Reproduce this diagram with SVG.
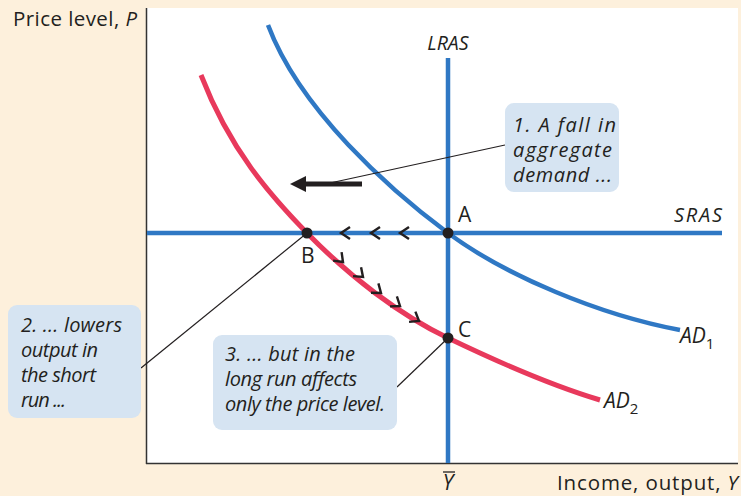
<svg xmlns="http://www.w3.org/2000/svg" width="741" height="496" viewBox="0 0 741 496">
<style>
.t{font-family:"Open Sans","Noto Sans","DejaVu Sans",sans-serif;fill:#231f20}
.i{font-style:italic}
.box{fill:#d6e4f2}
.lead{stroke:#231f20;stroke-width:1.2;fill:none}
.blue{stroke:#2f78c4;stroke-width:4.5;fill:none}
.red{stroke:#e8395c;stroke-width:5;fill:none}
.chev{stroke:#231f20;stroke-width:2.4;fill:none;stroke-linejoin:miter}
</style>
<defs>
<path id="chev" d="M-9,-6 L0,0 L-9,6"/>
<path id="chev2" d="M-8,-6 L0,0 L-8,6"/>
</defs>
<rect x="0" y="0" width="741" height="496" fill="#fdf0dc"/>
<rect x="147" y="8" width="591" height="455" fill="#ffffff"/>
<g id="axes" stroke="#333" stroke-width="1.5">
<line x1="146.5" y1="8" x2="146.5" y2="464"/>
<line x1="146" y1="463.5" x2="738" y2="463.5"/>
</g>
<g id="lras"><line x1="448" y1="58" x2="448" y2="463" class="blue"/>
<text class="t i" x="448" y="50" font-size="19.5" text-anchor="middle">LRAS</text></g>
<g id="sras"><line x1="147" y1="233" x2="722" y2="233" class="blue"/>
<text class="t i" x="722" y="222" font-size="20" text-anchor="end" textLength="48">SRAS</text></g>
<g id="ad1"><path class="blue" d="M268,25 C300,110 390,190 448,233 C506,276 600,315 680,330"/>
<text class="t i" x="680" y="343" font-size="21">AD<tspan font-size="15" dy="6" font-style="normal">1</tspan></text></g>
<g id="ad2"><path class="red" d="M201,75 C230,150 270,195 307,233 C350,277 400,315 448,338 C500,363 550,385 600,400"/>
<text class="t i" x="604" y="408" font-size="21">AD<tspan font-size="15" dy="6" font-style="normal">2</tspan></text></g>
<g id="connectors">
<line class="lead" x1="505" y1="145" x2="330" y2="183"/>
<line class="lead" x1="307" y1="233" x2="141" y2="368"/>
<line class="lead" x1="448" y1="338" x2="397" y2="387"/>
<line x1="362" y1="184" x2="302" y2="184" stroke="#231f20" stroke-width="5"/>
<polygon points="290,184 306,176 306,192" fill="#231f20"/>
<g class="chev">
<use href="#chev" transform="translate(341,233) rotate(180)"/>
<use href="#chev" transform="translate(371,233) rotate(180)"/>
<use href="#chev" transform="translate(400,233) rotate(180)"/>
<use href="#chev2" transform="translate(343,262) rotate(45)"/>
<use href="#chev2" transform="translate(363,277) rotate(42)"/>
<use href="#chev2" transform="translate(381,293) rotate(38)"/>
<use href="#chev2" transform="translate(400,306) rotate(35)"/>
<use href="#chev2" transform="translate(419,321) rotate(32)"/>
</g>
</g>
<g id="pointA"><circle cx="448" cy="233" r="5.5" fill="#231f20"/><text class="t" x="458" y="222" font-size="21">A</text></g>
<g id="pointB"><circle cx="307" cy="233" r="5.5" fill="#231f20"/><text class="t" x="301" y="263" font-size="21">B</text></g>
<g id="pointC"><circle cx="448" cy="338" r="5.5" fill="#231f20"/><text class="t" x="458" y="337" font-size="21">C</text></g>
<g id="box1"><rect class="box" x="505" y="103" width="114" height="89" rx="9"/>
<text class="t i" font-size="20"><tspan x="513" y="132" textLength="103">1. A fall in</tspan><tspan x="513" y="157" textLength="99">aggregate</tspan><tspan x="513" y="182" textLength="99">demand ...</tspan></text></g>
<g id="box2"><rect class="box" x="8" y="305" width="133" height="113" rx="9"/>
<text class="t i" font-size="20"><tspan x="21" y="332" textLength="101">2. ... lowers</tspan><tspan x="21" y="357" textLength="77">output in</tspan><tspan x="21" y="382" textLength="75">the short</tspan><tspan x="21" y="407" textLength="45">run ...</tspan></text></g>
<g id="box3"><rect class="box" x="213" y="335" width="184" height="95" rx="9"/>
<text class="t i" font-size="20"><tspan x="225" y="360.5" textLength="130">3. ... but in the</tspan><tspan x="225" y="385.5" textLength="132">long run affects</tspan><tspan x="225" y="410.5" textLength="160">only the price level.</tspan></text></g>
<g id="labels">
<text class="t" x="13" y="26" font-size="20.5" textLength="124">Price level, <tspan font-style="italic">P</tspan></text>
<text class="t" x="557" y="490" font-size="20.5" textLength="181">Income, output, <tspan font-style="italic">Y</tspan></text>
<text class="t i" x="448" y="490" font-size="21" text-anchor="middle">Y</text>
<line x1="443" y1="472" x2="455" y2="472" stroke="#231f20" stroke-width="1.3"/>
</g>
</svg>
